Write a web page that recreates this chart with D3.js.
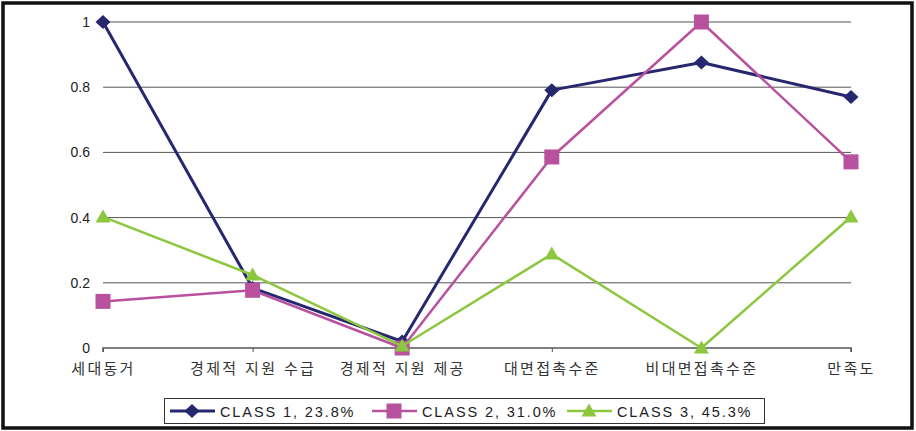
<!DOCTYPE html>
<html>
<head>
<meta charset="utf-8">
<script src="https://cdn.jsdelivr.net/npm/d3@7"></script>
<style>
  html, body { margin: 0; padding: 0; background: #fff; }
  svg { display: block; }
</style>
</head>
<body>
<svg id="chart" width="916" height="431"></svg>
<script>
// Categories along the x axis
const categories = ["세대동거", "경제적 지원 수급", "경제적 지원 제공", "대면접촉수준", "비대면접촉수준", "만족도"];
// Series values per class
const class1 = [1.0, 0.184, 0.02, 0.791, 0.876, 0.77];
const class2 = [0.143, 0.177, 0.0, 0.586, 1.0, 0.571];
const class3 = [0.402, 0.224, 0.006, 0.288, 0.0, 0.402];
const seriesNames = ["CLASS 1, 23.8%", "CLASS 2, 31.0%", "CLASS 3, 45.3%"];
const yTicks = [0, 0.2, 0.4, 0.6, 0.8, 1];

const series = [
  { name: seriesNames[0], values: class1, color: "#27276f", width: 3, shape: "diamond" },
  { name: seriesNames[1], values: class2, color: "#b8529f", width: 2.5, shape: "square" },
  { name: seriesNames[2], values: class3, color: "#8dc63f", width: 2.5, shape: "triangle" }
];

const svg = d3.select("#chart");
const W = 916, H = 431;

// outer frame
svg.append("rect").attr("x", 3).attr("y", 3).attr("width", W - 7).attr("height", H - 6)
  .attr("fill", "none").attr("stroke", "#111").attr("stroke-width", 3.5);

const x = d3.scalePoint().domain(categories).range([103, 851]);
const y = d3.scaleLinear().domain([0, 1]).range([348, 22]);

// horizontal grid lines
svg.append("g").selectAll("line").data(yTicks.filter(d => d > 0)).join("line")
  .attr("x1", 103).attr("x2", 851)
  .attr("y1", d => y(d)).attr("y2", d => y(d))
  .attr("stroke", "#555").attr("stroke-width", 1);

// y axis labels
const yAxis = d3.axisLeft(y).tickValues(yTicks).tickSize(0).tickPadding(0)
  .tickFormat(d => d3.format("~g")(d));
const gy = svg.append("g").attr("transform", "translate(90,0)").call(yAxis);
gy.select(".domain").remove();
gy.selectAll("text").attr("font-family", "Liberation Sans, Arial, sans-serif")
  .attr("font-size", 14).attr("fill", "#222");

// x axis with ticks at category points
const xAxis = d3.axisBottom(x).tickSize(4).tickSizeOuter(0).tickPadding(11);
const gx = svg.append("g").attr("transform", "translate(0,348)").call(xAxis);
gx.select(".domain").attr("stroke", "#555").attr("stroke-width", 1.5)
  .attr("d", `M103,4V0H851V4`);
gx.selectAll(".tick line").attr("stroke", "#555").attr("stroke-width", 1);
gx.selectAll("text").attr("font-family", "Noto Sans CJK KR, sans-serif")
  .attr("font-size", 15).attr("fill", "#333")
  .attr("letter-spacing", "2.3px").attr("word-spacing", "1px");

function drawMarker(g, shape, cx, cy, color) {
  if (shape === "diamond") {
    g.append("path").attr("d", `M${cx},${cy - 7}L${cx + 7.5},${cy}L${cx},${cy + 7}L${cx - 7.5},${cy}Z`)
      .attr("fill", color);
  } else if (shape === "square") {
    g.append("rect").attr("x", cx - 7.5).attr("y", cy - 7.5).attr("width", 15).attr("height", 15)
      .attr("fill", color);
  } else {
    g.append("path").attr("d", `M${cx},${cy - 7.5}L${cx + 7.5},${cy + 5.5}L${cx - 7.5},${cy + 5.5}Z`)
      .attr("fill", color);
  }
}

const line = d3.line().x((d, i) => x(categories[i])).y(d => y(d));

series.forEach(s => {
  const g = svg.append("g");
  g.append("path").datum(s.values).attr("d", line)
    .attr("fill", "none").attr("stroke", s.color).attr("stroke-width", s.width)
    .attr("stroke-linejoin", "round");
  s.values.forEach((v, i) => drawMarker(g, s.shape, x(categories[i]), y(v), s.color));
});

// legend
const lg = svg.append("g");
lg.append("rect").attr("x", 164.5).attr("y", 398.5).attr("width", 600).attr("height", 25)
  .attr("fill", "#fff").attr("stroke", "#333").attr("stroke-width", 1);
const legendX = [170, 372, 567];
series.forEach((s, i) => {
  const lx = legendX[i], ly = 411;
  lg.append("line").attr("x1", lx).attr("x2", lx + 45).attr("y1", ly).attr("y2", ly)
    .attr("stroke", s.color).attr("stroke-width", s.width);
  drawMarker(lg, s.shape, lx + 22, ly, s.color);
  lg.append("text").attr("x", lx + 50).attr("y", ly + 5.5)
    .attr("font-family", "Liberation Sans, Arial, sans-serif").attr("font-size", 14.5)
    .attr("fill", "#222").attr("letter-spacing", "1.9px").text(s.name);
});
</script>
</body>
</html>
